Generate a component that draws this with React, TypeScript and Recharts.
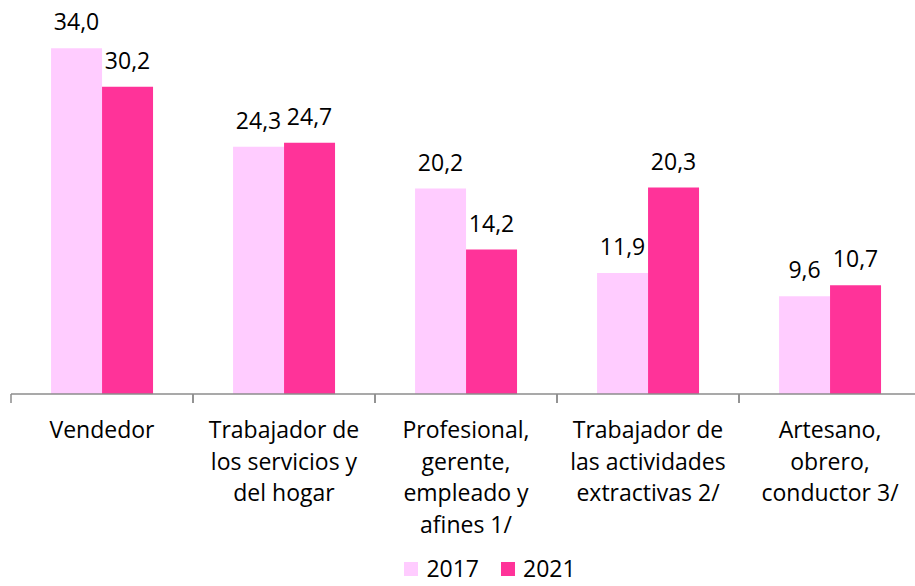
import { Bar, BarChart, LabelList, Legend, XAxis, YAxis } from 'recharts';

const categories = [
  'Vendedor',
  'Trabajador de\nlos servicios y\ndel hogar',
  'Profesional,\ngerente,\nempleado y\nafines 1/',
  'Trabajador de\nlas actividades\nextractivas 2/',
  'Artesano,\nobrero,\nconductor 3/',
];
const values2017 = [34.0, 24.3, 20.2, 11.9, 9.6];
const values2021 = [30.2, 24.7, 14.2, 20.3, 10.7];
const seriesNames = ['2017', '2021'];

const COLORS = ['#ffccff', '#ff3399'];
const FONT = '"Open Sans", sans-serif';
const CAT_W = 182;
const AXIS_Y = 394;

const data = categories.map((c, i) => ({
  cat: c,
  a: values2017[i],
  b: values2021[i],
}));

const fmt = (v: number) => v.toFixed(1).replace('.', ',');

function CatTick(props: any) {
  const { x, payload } = props;
  const lines = String(payload.value).split('\n');
  const left = x - CAT_W / 2;
  const right = x + CAT_W / 2;
  return (
    <g>
      <line x1={left} y1={AXIS_Y} x2={left} y2={AXIS_Y + 9} stroke="#8c8c8c" strokeWidth={1.5} />
      <line x1={right} y1={AXIS_Y} x2={right} y2={AXIS_Y + 9} stroke="#8c8c8c" strokeWidth={1.5} />
      <text x={x} y={AXIS_Y + 44} textAnchor="middle" fontSize={23} fontFamily={FONT} fill="#000">
        {lines.map((l, i) => (
          <tspan key={i} x={x} dy={i === 0 ? 0 : 31.7}>
            {l}
          </tspan>
        ))}
      </text>
    </g>
  );
}

function LegendBox() {
  return (
    <div
      style={{
        height: 34,
        boxSizing: 'border-box',
        paddingTop: 5,
        paddingLeft: 48,
        display: 'flex',
        justifyContent: 'center',
        alignItems: 'flex-start',
        gap: 22,
        fontFamily: FONT,
        fontSize: 23,
        lineHeight: '23px',
        color: '#000',
      }}
    >
      {seriesNames.map((n, i) => (
        <span key={n} style={{ display: 'flex', alignItems: 'center', gap: 8 }}>
          <span style={{ width: 14, height: 14, background: COLORS[i], display: 'inline-block' }} />
          {n}
        </span>
      ))}
    </div>
  );
}

export default function App() {
  return (
    <div style={{ position: 'absolute', left: 0, top: 0, width: 915, height: 586, overflow: 'hidden', background: '#fff' }}>
      <BarChart
        width={930}
        height={586}
        data={data}
        margin={{ top: 38, right: 9, left: 11, bottom: 0 }}
        barCategoryGap="22%"
        barGap={0}
      >
        <XAxis
          dataKey="cat"
          interval={0}
          height={158}
          tickLine={false}
          tickSize={0}
          tickMargin={0}
          axisLine={{ stroke: '#8c8c8c', strokeWidth: 1.5 }}
          tick={<CatTick />}
        />
        <YAxis hide domain={[0, 35]} />
        <Legend verticalAlign="bottom" content={<LegendBox />} />
        <Bar dataKey="a" name={seriesNames[0]} fill={COLORS[0]} isAnimationActive={false}>
          <LabelList dataKey="a" position="top" offset={18} formatter={fmt as any} fontSize={23} fontFamily={FONT} fill="#000" />
        </Bar>
        <Bar dataKey="b" name={seriesNames[1]} fill={COLORS[1]} isAnimationActive={false}>
          <LabelList dataKey="b" position="top" offset={18} formatter={fmt as any} fontSize={23} fontFamily={FONT} fill="#000" />
        </Bar>
      </BarChart>
    </div>
  );
}
